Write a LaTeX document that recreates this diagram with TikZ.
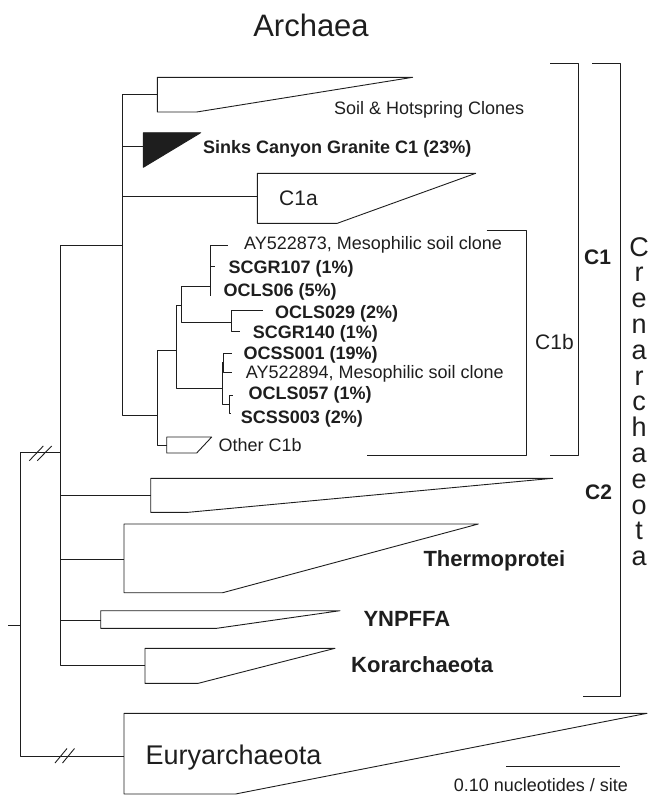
\documentclass[tikz,border=0pt]{standalone}
\usepackage{fontspec}
\setmainfont{Liberation Sans}
\definecolor{ink}{HTML}{1E1E1E}
\tikzset{
 br/.style={draw=ink,line width=0.9pt,line join=round},
 lab/.style={anchor=base west,inner sep=0pt,text=ink,font=\fontsize{18}{21}\selectfont},
 blab/.style={lab,font=\fontsize{18}{21}\selectfont\bfseries},
 glab/.style={lab,font=\fontsize{22}{26}\selectfont\bfseries},
 mlab/.style={lab,font=\fontsize{21}{25}\selectfont},
 mblab/.style={lab,font=\fontsize{21}{25}\selectfont\bfseries},
 crenl/.style={anchor=base,inner sep=0pt,text=ink,font=\fontsize{27}{30}\selectfont},
}
\begin{document}
\begin{tikzpicture}[x=1pt,y=-1pt]
\useasboundingbox (0,0) rectangle (648,795);
% title
\node[anchor=base,inner sep=0pt,text=ink,font=\fontsize{31}{34}\selectfont] (title) at (311,36) {Archaea};
% tree coordinates
\coordinate (rootstub) at (8.3,625);
\coordinate (root) at (20.7,625);
\coordinate (cren) at (60.3,452.7);
\coordinate (eury) at (124,756);
\coordinate (c1) at (122.7,245);
\coordinate (soil) at (157.3,94);
\coordinate (sinks) at (143.3,146.7);
\coordinate (c1a) at (257.3,196.7);
\coordinate (c1b) at (157.3,415);
\coordinate (n1) at (176,350);
\coordinate (other) at (166.7,445);
\coordinate (n2) at (181.7,305);
\coordinate (g) at (222.7,388.3);
\coordinate (n3) at (210,286.7);
\coordinate (n4) at (231,322.3);
\coordinate (t1) at (228.3,245);
\coordinate (t2) at (215,266.7);
\coordinate (t3) at (210,295.7);
\coordinate (t4) at (263.3,310);
\coordinate (t5) at (240,331.7);
\coordinate (na) at (223.8,362.5);
\coordinate (t6) at (231.7,353.3);
\coordinate (t7) at (231.7,372.3);
\coordinate (nb) at (229.3,404);
\coordinate (t8) at (233.3,395);
\coordinate (t9) at (230.6,413);
\coordinate (c2) at (150.7,495.7);
\coordinate (thermo) at (124,559);
\coordinate (ynp) at (100.7,620);
\coordinate (kor) at (145,665.7);
% branches
\draw[br] (rootstub) -- (root);
\draw[br] (root) |- (cren);
\draw[br] (root) |- (eury);
\draw[br] (cren) |- (c1);
\draw[br] (cren) |- (c2);
\draw[br] (cren) |- (thermo);
\draw[br] (cren) |- (ynp);
\draw[br] (cren) |- (kor);
\draw[br] (c1) |- (soil);
\draw[br] (c1) |- (sinks);
\draw[br] (c1) |- (c1a);
\draw[br] (c1) |- (c1b);
\draw[br] (c1b) |- (n1);
\draw[br] (c1b) |- (other);
\draw[br] (n1) |- (n2);
\draw[br] (n1) |- (g);
\draw[br] (n2) |- (n3);
\draw[br] (n2) |- (n4);
\draw[br] (n3) |- (t1);
\draw[br] (n3) |- (t2);
\draw[br] (n3) |- (t3);
\draw[br] (n4) |- (t4);
\draw[br] (n4) |- (t5);
\draw[br] (g) |- (na);
\draw[br] (g) |- (nb);
\draw[br] (na) |- (t6);
\draw[br] (na) |- (t7);
\draw[br] (nb) |- (t8);
\draw[br] (nb) |- (t9);
% collapsed clades
\draw[br] (157.3,77.3) -- (412.7,77.3) -- (196.7,112) -- (157.3,112) -- cycle;
\filldraw[br,fill=ink] (143.3,132.7) -- (200.7,132.7) -- (143.3,167.3) -- cycle;
\draw[br] (257.3,173.3) -- (475.7,173.3) -- (337.3,223.3) -- (257.3,223.3) -- cycle;
\draw[br] (166.7,437) -- (211.7,437) -- (196.7,453) -- (166.7,453) -- cycle;
\draw[br] (150.7,478.3) -- (552.7,478.3) -- (188.3,512.3) -- (150.7,512.3) -- cycle;
\draw[br] (124,524) -- (478.3,524) -- (222.7,592.7) -- (124,592.7) -- cycle;
\draw[br] (100.7,610.7) -- (340,610.7) -- (216.7,628.3) -- (100.7,628.3) -- cycle;
\draw[br] (145,648.3) -- (335,648.3) -- (198.3,683.3) -- (145,683.3) -- cycle;
\draw[br] (124,713.3) -- (647,713.3) -- (235.5,794) -- (124,794) -- cycle;
% break marks
\draw[br] (29.3,460.7) -- (43.3,446);
\draw[br] (37.3,460.7) -- (51.7,446);
\draw[br] (55,763) -- (67,748.5);
\draw[br] (62.5,763) -- (74.5,748.5);
% brackets
\draw[br] (486.7,230) -- (526.7,230) -- (526.7,455) -- (366.7,455);
\draw[br] (550,63.3) -- (578.3,63.3) -- (578.3,455) -- (550,455);
\draw[br] (592.3,63.3) -- (620.7,63.3) -- (620.7,696.7) -- (583,696.7);
% scale bar
\coordinate (sbl) at (506,766);
\coordinate (sbr) at (620,766);
\draw[br] (sbl) -- (sbr);
% labels
\node[lab] (lsoil) at (334,114.8) {Soil \& Hotspring Clones};
\node[blab] (lsinks) at (203,153.2) {Sinks Canyon Granite C1 (23\%)};
\node[mlab] (lc1a) at (279,205.6) {C1a};
\node[lab] (l1) at (244,249.8) {AY522873, Mesophilic soil clone};
\node[blab] (l2) at (228.3,273.2) {SCGR107 (1\%)};
\node[blab] (l3) at (223.3,296.5) {OCLS06 (5\%)};
\node[blab] (l4) at (275,318.2) {OCLS029 (2\%)};
\node[blab] (l5) at (252.7,338.2) {SCGR140 (1\%)};
\node[blab] (l6) at (243.3,359.8) {OCSS001 (19\%)};
\node[lab] (l7) at (245.7,378.2) {AY522894, Mesophilic soil clone};
\node[blab] (l8) at (248.3,399.8) {OCLS057 (1\%)};
\node[blab] (l9) at (240.7,423) {SCSS003 (2\%)};
\node[lab] (lother) at (218.3,451.5) {Other C1b};
\node[mlab] (lc1b) at (535,349.3) {C1b};
\node[mblab] (lc1) at (584,264.3) {C1};
\node[mblab] (lc2) at (585,499.3) {C2};
\node[glab] (lthermo) at (423.3,566.2) {Thermoprotei};
\node[glab] (lynp) at (363.3,626.2) {YNPFFA};
\node[glab] (lkor) at (351,672.9) {Korarchaeota};
\node[lab,font=\fontsize{27}{30}\selectfont] (leury) at (145.5,764.7) {Euryarchaeota};
\node[lab] (lscale) at (453.7,791) {0.10 nucleotides / site};
\foreach \l [count=\i from 0] in {C,r,e,n,a,r,c,h,a,e,o,t,a}
  \node[crenl] (cren\i) at (639,{256+25.8*\i}) {\l};
\end{tikzpicture}
\end{document}
